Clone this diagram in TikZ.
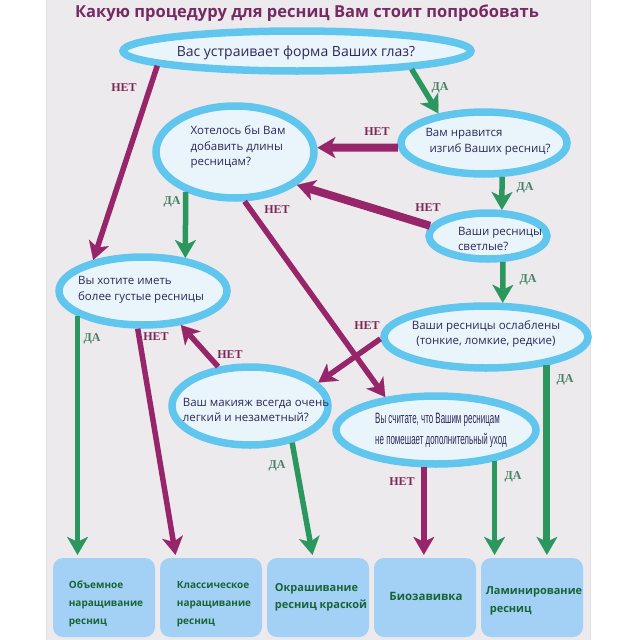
\documentclass[tikz,border=0pt]{standalone}
\usepackage{fontspec}
\setmainfont{Open Sans}
\newfontfamily\labfont{Liberation Serif}
\newfontfamily\narrowfont{Liberation Sans}
\usepackage{graphicx}
\usetikzlibrary{shapes.geometric,arrows.meta}

\definecolor{panel}{RGB}{237,234,238}
\definecolor{ringblue}{RGB}{96,198,238}
\definecolor{innerblue}{RGB}{234,245,251}
\definecolor{boxblue}{RGB}{162,209,245}
\definecolor{nocol}{RGB}{150,38,105}
\definecolor{yescol}{RGB}{44,150,95}
\definecolor{notxt}{RGB}{125,40,85}
\definecolor{yestxt}{RGB}{70,130,100}
\definecolor{qtxt}{RGB}{45,40,90}
\definecolor{boxtxt}{RGB}{25,100,55}
\definecolor{titlecol}{RGB}{118,42,98}

\newcommand{\narrowline}[1]{\scalebox{0.53}[1]{\narrowfont #1}}

\tikzset{
	quest/.style={ellipse, draw=ringblue, line width=7.5pt, fill=innerblue, inner sep=0pt},
	qtext/.style={align=left, text=qtxt, font=\fontsize{11.5}{15.5}\selectfont},
	answer/.style={rounded corners=10pt, fill=boxblue, minimum width=102pt, minimum height=79pt, inner sep=0pt},
	boxtext/.style={align=left, text=boxtxt, font=\bfseries\fontsize{10}{18}\selectfont},
	noarr/.style={draw=nocol, line width=5.5pt, -{Stealth[length=18pt,width=21pt,inset=5pt,line width=0.1pt]}},
	yesarr/.style={draw=yescol, line width=5.5pt, -{Stealth[length=18pt,width=21pt,inset=5pt,line width=0.1pt]}},
	nolab/.style={text=notxt, font=\labfont\bfseries\fontsize{12}{12}\selectfont},
	yeslab/.style={text=yestxt, font=\labfont\bfseries\fontsize{12}{12}\selectfont},
}

\begin{document}
\begin{tikzpicture}[x=1pt,y=1pt,yscale=-1,xscale=1]

	\useasboundingbox (0,0) rectangle (640,640);
	\fill[white] (0,0) rectangle (640,640);
	\draw[panel, fill=panel] (46,0) rectangle (590,640);
	\draw[black!12] (46,0) -- (46,640) (590,0) -- (590,640);

	\draw (307,13) node [text=titlecol, font=\bfseries\fontsize{16.5}{18}\selectfont] (title) {Какую процедуру для ресниц Вам стоит попробовать};

	\draw (297,51) node [quest, minimum width=348pt, minimum height=40pt] (q1) {};
	\draw (235,152) node [quest, minimum width=158pt, minimum height=92pt] (q2) {};
	\draw (484,143) node [quest, minimum width=166pt, minimum height=62pt] (q3) {};
	\draw (488,236) node [quest, minimum width=118pt, minimum height=46pt] (q4) {};
	\draw (143,291) node [quest, minimum width=168pt, minimum height=68pt] (q5) {};
	\draw (486,337) node [quest, minimum width=204pt, minimum height=62pt] (q6) {};
	\draw (250,406) node [quest, minimum width=156pt, minimum height=78pt] (q7) {};
	\draw (436,430) node [quest, minimum width=200pt, minimum height=68pt] (q8) {};

	\draw (296,53) node [qtext, font=\fontsize{14}{16}\selectfont] (t1) {Вас устраивает форма Ваших глаз?};
	\draw (238,147) node [qtext] (t2) {Хотелось бы Вам\\добавить длины\\ресницам?};
	\draw (488,142) node [qtext] (t3) {Вам нравится\\\hspace*{4pt}изгиб Ваших ресниц?};
	\draw (500,239) node [qtext] (t4) {Ваши ресницы\\светлые?};
	\draw (141,290) node [qtext] (t5) {Вы хотите иметь\\более густые ресницы};
	\draw (486,334) node [qtext, align=center] (t6) {Ваши ресницы ослаблены\\(тонкие, ломкие, редкие)};
	\draw (256,410) node [qtext] (t7) {Ваш макияж всегда очень\\легкий и незаметный?};
	\draw (441,430) node [qtext, font=\fontsize{15}{15}\selectfont] (t8) {\narrowline{Вы считате, что Вашим ресницам}\\[6pt]\narrowline{не помешает дополнительный уход}};

	\draw (104,597.5) node [answer] (b1) {};
	\draw (211,597.5) node [answer] (b2) {};
	\draw (318,597.5) node [answer] (b3) {};
	\draw (425,597.5) node [answer] (b4) {};
	\draw (532,597.5) node [answer] (b5) {};
	\draw (106,604) node [boxtext] (s1) {Объемное\\наращивание\\ресниц};
	\draw (214,604) node [boxtext] (s2) {Классическое\\наращивание\\ресниц};
	\draw (321,597) node [boxtext, font=\bfseries\fontsize{11}{17}\selectfont] (s3) {Окрашивание\\ресниц краской};
	\draw (426,596) node [boxtext, font=\bfseries\fontsize{11.5}{17}\selectfont] (s4) {Биозавивка};
	\draw (534,601) node [boxtext, font=\bfseries\fontsize{11}{18}\selectfont] (s5) {Ламинирование\\\hspace*{4pt}ресниц};

	\draw[noarr] (q1.186) -- (q5.148);
	\draw[yesarr] (q1.351) -- (q3.147);
	\draw[noarr, line width=8pt] (q3.183) -- (q2.3);
	\draw[yesarr] (q3.298) -- (q4.62);
	\draw[noarr, line width=8pt] (q4.170) -- (q2.332);
	\draw[yesarr] (q2.219) -- (q5.38);
	\draw[noarr] (q2.281) -- (q8.147);
	\draw[yesarr, line width=4.5pt, shorten >=3pt] (q5.201) -- (q5.201 |- b1.north);
	\draw[noarr, shorten >=3pt] (q5.262) -- ([xshift=-35pt]b2.north);
	\draw[yesarr] (q4.300) -- (q6.64);
	\draw[noarr] (q6.181) -- (q7.19);
	\draw[yesarr, line width=7pt, shorten >=3pt] (q6.335) -- (q6.335 |- b5.north);
	\draw[noarr] (q7.129) -- (q5.318);
	\draw[yesarr, shorten >=3pt] (q7.319) -- ([xshift=-5pt]b3.north);
	\draw[noarr, shorten >=3pt] (q8.252) -- (q8.252 |- b4.north);
	\draw[yesarr, shorten >=3pt] (q8.332) -- (q8.332 |- b5.north);

	\draw (124,88) node [nolab] (n1) {НЕТ};
	\draw (377,132) node [nolab] (n2) {НЕТ};
	\draw (428,208) node [nolab] (n3) {НЕТ};
	\draw (277,210) node [nolab] (n4) {НЕТ};
	\draw (156,337) node [nolab] (n5) {НЕТ};
	\draw (367,326) node [nolab] (n6) {НЕТ};
	\draw (230,355) node [nolab] (n7) {НЕТ};
	\draw (402,482) node [nolab] (n8) {НЕТ};
	\draw (440,88) node [yeslab] (y1) {ДА};
	\draw (525,188) node [yeslab] (y2) {ДА};
	\draw (172,202) node [yeslab] (y3) {ДА};
	\draw (528,280) node [yeslab] (y4) {ДА};
	\draw (92,339) node [yeslab] (y5) {ДА};
	\draw (565,380) node [yeslab] (y6) {ДА};
	\draw (277,466) node [yeslab] (y7) {ДА};
	\draw (513,477) node [yeslab] (y8) {ДА};

\end{tikzpicture}
\end{document}
